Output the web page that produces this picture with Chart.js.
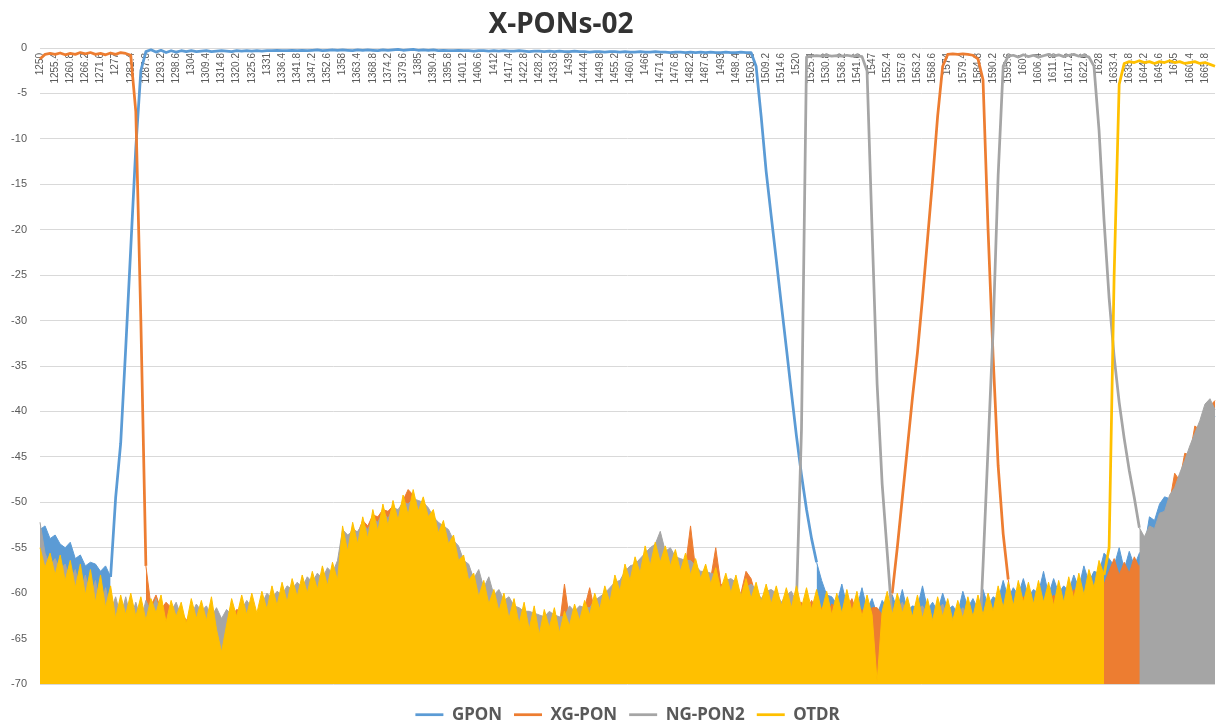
<!DOCTYPE html>
<html>
<head>
<meta charset="utf-8">
<title>X-PONs-02</title>
<script src="https://cdn.jsdelivr.net/npm/chart.js@4.4.1/dist/chart.umd.min.js"></script>
<style>
  html, body { margin: 0; padding: 0; background: #fff; }
  #wrap { width: 1217px; height: 727px; position: relative; }
</style>
</head>
<body>
<div id="wrap"><canvas id="chart"></canvas></div>
<script>
const titleText = 'X-PONs-02';

// wavelength grid, nm (one sample every 1.8 nm)
const wavelengths = [];
for (let i = 0; i < 234; i++) wavelengths.push(+(1250 + 1.8 * i).toFixed(1));

// labels printed along the axis (every third sample)
const tickLabels = [
  '1250', '1255.4', '1260.8', '1266.2', '1271.6', '1277', '1282.4', '1287.8', '1293.2', '1298.6',
  '1304', '1309.4', '1314.8', '1320.2', '1325.6', '1331', '1336.4', '1341.8', '1347.2', '1352.6',
  '1358', '1363.4', '1368.8', '1374.2', '1379.6', '1385', '1390.4', '1395.8', '1401.2', '1406.6',
  '1412', '1417.4', '1422.8', '1428.2', '1433.6', '1439', '1444.4', '1449.8', '1455.2', '1460.6',
  '1466', '1471.4', '1476.8', '1482.2', '1487.6', '1493', '1498.4', '1503.8', '1509.2', '1514.6',
  '1520', '1525.4', '1530.8', '1536.2', '1541.6', '1547', '1552.4', '1557.8', '1563.2', '1568.6',
  '1574', '1579.4', '1584.8', '1590.2', '1595.6', '1601', '1606.4', '1611.8', '1617.2', '1622.6',
  '1628', '1633.4', '1638.8', '1644.2', '1649.6', '1655', '1660.4', '1665.8'
];

// insertion loss, dB
const gpon = [
  -53.0, -52.6, -54.0, -53.6, -54.6, -55.0, -54.4, -56.2, -55.8, -57.0, -56.6, -56.8, -57.6, -57.0, -58.2,
  -49.5, -43.5, -33, -22, -11, -2.5, -0.4,
  -0.2, -0.45, -0.25, -0.5, -0.3, -0.45, -0.3, -0.4, -0.3, -0.4,
  -0.35, -0.3, -0.4, -0.35, -0.3, -0.35, -0.4, -0.3, -0.35, -0.3,
  -0.35, -0.3, -0.35, -0.3, -0.3, -0.25, -0.3, -0.3, -0.25, -0.3,
  -0.25, -0.3, -0.25, -0.2, -0.3, -0.25, -0.2, -0.25, -0.2, -0.25,
  -0.3, -0.2, -0.25, -0.2, -0.25, -0.3, -0.2, -0.25, -0.2, -0.15,
  -0.25, -0.2, -0.15, -0.25, -0.2, -0.25, -0.2, -0.3, -0.25, -0.3,
  -0.3, -0.25, -0.3, -0.3, -0.35, -0.3, -0.3, -0.35, -0.3, -0.35,
  -0.3, -0.35, -0.35, -0.3, -0.35, -0.4, -0.35, -0.35, -0.4, -0.35,
  -0.4, -0.35, -0.4, -0.4, -0.35, -0.4, -0.4, -0.45, -0.4, -0.4,
  -0.45, -0.4, -0.4, -0.45, -0.4, -0.45, -0.45, -0.4, -0.45, -0.45,
  -0.4, -0.45, -0.45, -0.5, -0.45, -0.45, -0.5, -0.45, -0.5, -0.45,
  -0.5, -0.45, -0.5, -0.5, -0.45, -0.5, -0.5, -0.45, -0.5,
  -0.5, -2.0, -7.5, -13.6, -18.5, -23.3, -28.2, -33, -37.9, -42.7, -47, -50.8, -54, -56.6, -58.6, -60.2,
  -60.4, -61.2, -59.0, -61.4, -61.0, -61.6, -59.4, -61.8, -60.6, -62.4, -60.8, -61.6, -60.2, -61.8, -59.6,
  -62.0, -61.4, -61.6, -59.2, -61.8, -61.0, -62.0, -60.0, -61.8, -61.4, -62.2, -59.8, -61.6, -60.6, -61.8,
  -59.6, -61.4, -60.4, -60.8, -58.6, -60.6, -59.4, -60.2, -58.4, -60.4, -59.6, -60.0, -57.6, -60.2, -58.4,
  -60.0, -59.2, -59.8, -58.0, -59.4, -57.0, -58.8, -57.6, -57.8, -55.6,
  -56.2, -57.0, -55.0, -57.4, -55.4, -57.0, -55.6, -55.0,
  -51.6, -52.0, -50.2, -49.4, -49.6, -48.0, -47.0, -46.2, -44.6, -43.0, -41.8, -40.4, -39.6, -40.6
];

const xgpon = [
  -1.2, -0.7, -0.6, -0.7, -0.55, -0.75, -0.6, -0.7, -0.5, -0.65, -0.5, -0.7, -0.6, -0.75, -0.55, -0.7, -0.5, -0.6, -0.8,
  -7, -30, -57,
  -61.4, -60.2, -61.8, -61.0, -61.6, -63.0, -62.0, -63.0, -62.2, -62.6, -62.0, -63.4, -62.4, -63.6, -64.0, -63.0,
  -62.6, -61.8, -62.0, -62.8, -61.6, -62.4, -61.4, -62.6, -60.8, -61.6, -60.4, -61.2, -60.0, -60.8, -59.6, -60.6,
  -59.2, -60.2, -58.6, -59.8, -57.8, -57.4,
  -53.4, -54.2, -52.8, -53.4, -52.0, -52.6, -51.4, -51.6, -50.8, -51.0, -50.4, -51.2, -49.8, -48.6, -49.2, -50.6,
  -50.0, -51.2, -51.4, -53.0, -52.8, -53.6, -54.4, -55.2, -56.6, -57.4, -58.4, -58.6, -59.8, -59.4, -60.6, -61.4,
  -61.2, -62.2, -61.8, -63.0, -62.2, -63.2, -62.6, -64.0, -62.6, -63.2, -63.0,
  -63.6, -59.0, -63.0, -62.4, -62.6, -61.6, -59.4, -62.0, -61.0, -61.6, -60.2, -61.0, -59.4, -59.8, -58.0, -58.6,
  -56.8, -56.4, -55.6, -55.8, -55.4, -56.0, -56.2, -56.4, -56.8, -57.0, -52.6, -57.4, -57.8, -58.0, -58.4, -55.0,
  -59.0, -59.4, -59.2, -59.8, -60.0, -57.6, -58.4, -60.4, -60.6, -60.8, -61.0, -60.8, -61.2, -61.0, -61.4, -61.2,
  -61.0, -62.0, -60.8, -61.8, -61.6, -62.4, -61.2, -61.6, -62.8, -61.6, -60.6, -62.2, -61.8, -62.6, -61.6, -61.6,
  -62.4, -62.6,
  -60, -55, -49.5, -44, -38.5, -33.5, -27.5, -21, -14.5, -7.5, -2, -0.7,
  -0.65, -0.7, -0.65, -0.7, -0.8, -1.2,
  -3.5, -20, -34, -46, -53.5, -58.5,
  -62.0, -61.2, -60.4, -61.6, -62.0, -60.8, -62.4, -61.0, -60.2, -61.2, -61.8, -60.6, -59.6, -60.4, -61.0, -58.8,
  -59.6, -57.8, -59.0,
  -57.6, -56.2, -58.0, -56.6, -57.8, -56.0, -57.2, -55.2, -54.0, -53.6, -52.2, -51.6, -50.0, -46.8, -47.6, -44.6,
  -44.8, -41.6, -42.0, -39.8, -39.4, -38.8
];

const ngpon2 = [
  -52.2, -55.6, -57.0, -56.2, -57.4, -56.8, -58.6, -57.4, -59.8, -58.0, -60.4, -58.6, -61.6, -59.4, -62.0, -60.4,
  -62.6, -60.4, -62.8, -61.0, -63.0, -60.8,
  -62.0, -60.6, -62.4, -63.6, -62.0, -61.0, -62.6, -63.8, -62.4, -61.2, -62.0, -61.4, -62.6, -61.6, -62.8, -61.8,
  -62.4, -62.8, -61.8, -60.8, -61.6, -62.4, -61.2, -60.0, -60.6, -59.8, -60.2, -59.2, -59.6, -58.8, -59.4, -58.2,
  -58.8, -57.8, -58.4, -57.2, -57.8, -56.4,
  -53.0, -53.6, -53.2, -53.2, -52.4, -53.0, -51.8, -52.2, -51.0, -51.8, -50.6, -50.8, -50.0, -50.2, -49.6, -49.8,
  -50.0, -50.6, -51.6, -52.2, -52.6, -53.0, -54.2, -54.8, -56.4, -56.8,
  -58.4, -57.4, -59.4, -58.2, -60.2, -59.6, -60.8, -60.4, -61.4, -61.6, -62.0, -62.0, -62.2, -62.4, -62.6, -62.0,
  -62.4, -62.6, -62.6, -61.4, -62.0, -61.4, -61.6, -61.6, -60.8, -60.4, -60.0, -59.4, -58.8, -58.6, -57.6, -57.0,
  -56.8, -56.2,
  -55.6, -55.0, -54.6, -53.2, -55.4, -55.0, -56.0, -56.2, -56.4, -56.4, -57.0, -57.6, -57.6, -57.8, -58.0, -59.6,
  -58.6, -58.4, -58.8, -60.2, -59.4, -59.0, -59.6, -60.6, -59.8, -59.6, -60.0, -61.0, -60.2, -59.8,
  -61.0, -42,
  -1.0, -0.9, -0.85, -0.9, -0.8, -0.9, -0.85, -0.9, -0.8, -0.9, -0.85, -0.95,
  -2.5, -20, -37, -48, -55.5, -63,
  -62.0, -61.0, -62.6, -63.4, -61.8, -61.4, -62.4, -64.0, -62.0, -61.2, -62.6, -63.6, -62.2, -61.6, -62.8, -63.0,
  -69,
  -57, -44, -31, -14, -2,
  -0.9, -0.8, -1.0, -0.75, -0.95, -0.8, -1.0, -0.85, -0.7, -0.9, -0.75, -0.95, -0.8, -0.7, -0.9, -0.8, -1.0,
  -2, -9, -19, -27.5, -34, -39, -43, -46.5, -49.5, -52.8,
  -53.8, -52.6, -52.9, -51.2, -51.0, -49.2, -48.4, -46.8, -45.4, -43.8, -42.4, -41.0, -39.2, -38.6, -39.8
];

const otdr = [
  -55.0, -57.2, -55.6, -58.0, -55.8, -58.6, -56.4, -59.4, -56.8, -60.2, -57.4, -61.0, -58.0, -61.6, -59.2, -62.8,
  -60.2, -62.4, -60.0, -62.6, -60.4, -63.0, -60.6, -62.2, -60.2, -63.2, -60.8, -62.6, -61.0, -63.4,
  -60.6, -62.8, -60.8, -63.0, -60.4, -64.0, -66.5, -63.5, -60.6, -62.6, -60.2, -62.4, -60.0, -62.2, -59.8, -61.8,
  -59.2, -61.4, -58.8, -61.0, -58.4, -60.4, -58.0, -60.0, -57.6, -59.6, -57.0, -59.2, -56.6, -58.6,
  -52.6, -55.4, -52.2, -54.6, -51.6, -54.0, -50.8, -53.2, -50.2, -52.6, -49.8, -52.0, -49.2, -51.4, -48.6, -51.0,
  -49.4, -51.6, -50.8, -53.4, -52.0, -54.6, -53.6, -56.4, -55.8, -58.6,
  -57.8, -60.4, -58.6, -61.2, -59.6, -62.0, -60.0, -62.8, -60.6, -63.4, -61.0, -64.0, -61.4, -64.6, -61.8, -63.8,
  -61.6, -64.4, -62.0, -63.6, -61.2, -63.0, -60.8, -62.4, -60.0, -61.8, -59.2, -61.0, -58.0, -59.8, -56.8, -58.6,
  -56.0, -57.8,
  -54.8, -57.0, -54.4, -56.6, -54.8, -57.0, -55.2, -57.6, -55.6, -58.0, -56.2, -58.4, -56.8, -59.0, -57.2, -59.6,
  -57.8, -60.0, -58.0, -60.4, -58.4, -60.6, -58.8, -61.0, -59.0, -61.2, -59.2, -61.4, -59.4, -61.6,
  -59.2, -61.6, -59.4, -61.8, -59.6, -62.0, -59.8, -62.4, -60.0, -62.2, -59.6, -62.0, -59.8, -62.6, -60.2, -62.4,
  -69.8, -62.0, -59.8, -62.4, -60.0, -62.2, -60.4, -62.6, -60.2, -62.8, -60.6, -63.0, -60.4, -62.6, -60.6, -63.0,
  -60.8, -62.8, -60.4, -62.6, -60.2, -62.4, -60.0, -62.0, -59.2, -61.6, -58.8, -61.4, -58.6, -61.0, -58.8, -61.2,
  -58.6, -61.0, -58.8, -61.4, -58.6, -61.0, -58.2, -60.6, -57.8, -60.2, -57.4, -59.4, -56.4, -58.0,
  -55, -25, -4, -1.7, -1.5, -1.6, -1.4, -1.6, -1.5, -1.7, -1.5, -1.6, -1.4, -1.6, -1.5, -1.7,
  -1.6, -1.5, -1.7, -1.6, -1.8, -2.0
];

// wavelength spans (nm) where each filter sits on the measurement floor
const gponFloor = [[1250, 1275.2], [1527.2, 1669.4]];
const xgponFloor = [[1287.8, 1554.2], [1595.6, 1669.4]];
const ngpon2Floor = [[1250, 1520.0], [1554.2, 1584.8], [1642.4, 1669.4]];
const otdrFloor = [[1250, 1629.8]];

const series = [
  { name: 'GPON', values: gpon, floor: gponFloor, color: '#5B9BD5' },
  { name: 'XG-PON', values: xgpon, floor: xgponFloor, color: '#ED7D31' },
  { name: 'NG-PON2', values: ngpon2, floor: ngpon2Floor, color: '#A5A5A5' },
  { name: 'OTDR', values: otdr, floor: otdrFloor, color: '#FFC000' }
];

function onFloor(ranges, i) {
  const w = wavelengths[i];
  return ranges.some(r => w >= r[0] - 0.05 && w <= r[1] + 0.05);
}

function floorPart(values, ranges) {
  return values.map((v, i) => (onFloor(ranges, i) ? v : null));
}

const datasets = [];
series.forEach((s, i) => {
  datasets.push({
    label: s.name,
    data: s.values,
    borderColor: s.color,
    backgroundColor: s.color,
    borderWidth: 2.75,
    borderJoinStyle: 'round',
    pointRadius: 0,
    fill: false,
    tension: 0,
    order: 7 - 2 * i,
    // the noisy floor is drawn with a hairline, the filter curves with a full stroke
    segment: {
      borderWidth: ctx => (onFloor(s.floor, ctx.p0DataIndex) && onFloor(s.floor, ctx.p1DataIndex) ? 1 : 2.75)
    }
  });
});
series.forEach((s, i) => {
  datasets.push({
    label: s.name + ' floor',
    data: floorPart(s.values, s.floor),
    borderColor: s.color,
    backgroundColor: s.color,
    borderWidth: 0,
    pointRadius: 0,
    fill: 'start',
    spanGaps: false,
    tension: 0,
    order: 8 - 2 * i
  });
});

const titlePlugin = {
  id: 'chartTitle',
  afterDraw(chart) {
    const ctx = chart.ctx;
    ctx.save();
    ctx.font = 'bold 28px "Noto Sans", sans-serif';
    ctx.fillStyle = '#333333';
    ctx.textAlign = 'center';
    ctx.textBaseline = 'alphabetic';
    ctx.fillText(titleText, 561, 33);
    ctx.restore();
  }
};

new Chart(document.getElementById('chart'), {
  type: 'line',
  data: { labels: wavelengths, datasets: datasets },
  plugins: [titlePlugin],
  options: {
    responsive: true,
    maintainAspectRatio: false,
    animation: false,
    events: [],
    layout: { padding: { top: 48, left: 2, right: 2, bottom: 0 } },
    plugins: {
      title: { display: false },
      tooltip: { enabled: false },
      legend: {
        position: 'bottom',
        fullSize: false,
        maxHeight: 43,
        title: { display: true, text: '', padding: { top: 9, bottom: 0 }, font: { size: 1 } },
        labels: {
          usePointStyle: true,
          pointStyle: 'line',
          pointStyleWidth: 28,
          padding: 12,
          color: '#595959',
          font: { size: 17, weight: 'bold', family: '"Noto Sans", sans-serif' },
          filter: item => item.datasetIndex < 4,
          sort: (a, b) => a.datasetIndex - b.datasetIndex
        }
      }
    },
    scales: {
      x: {
        type: 'category',
        axis: 'x',
        position: { y: 0 },
        grid: { display: false, drawTicks: false },
        border: { display: false },
        ticks: {
          autoSkip: false,
          minRotation: 90,
          maxRotation: 90,
          padding: 5,
          color: '#595959',
          font: { size: 10, family: '"Liberation Sans", sans-serif' },
          callback: (v, i) => (i % 3 === 0 ? tickLabels[i / 3] : '')
        },
        afterFit: s => { s.paddingLeft = 0; s.paddingRight = 0; }
      },
      y: {
        min: -70,
        max: 0,
        ticks: {
          stepSize: 5,
          padding: 13,
          color: '#595959',
          font: { size: 11, family: '"Liberation Sans", sans-serif' }
        },
        grid: { color: '#d9d9d9', drawTicks: false },
        border: { display: false },
        afterFit: s => { s.width = 38; }
      }
    }
  }
});
</script>
</body>
</html>
